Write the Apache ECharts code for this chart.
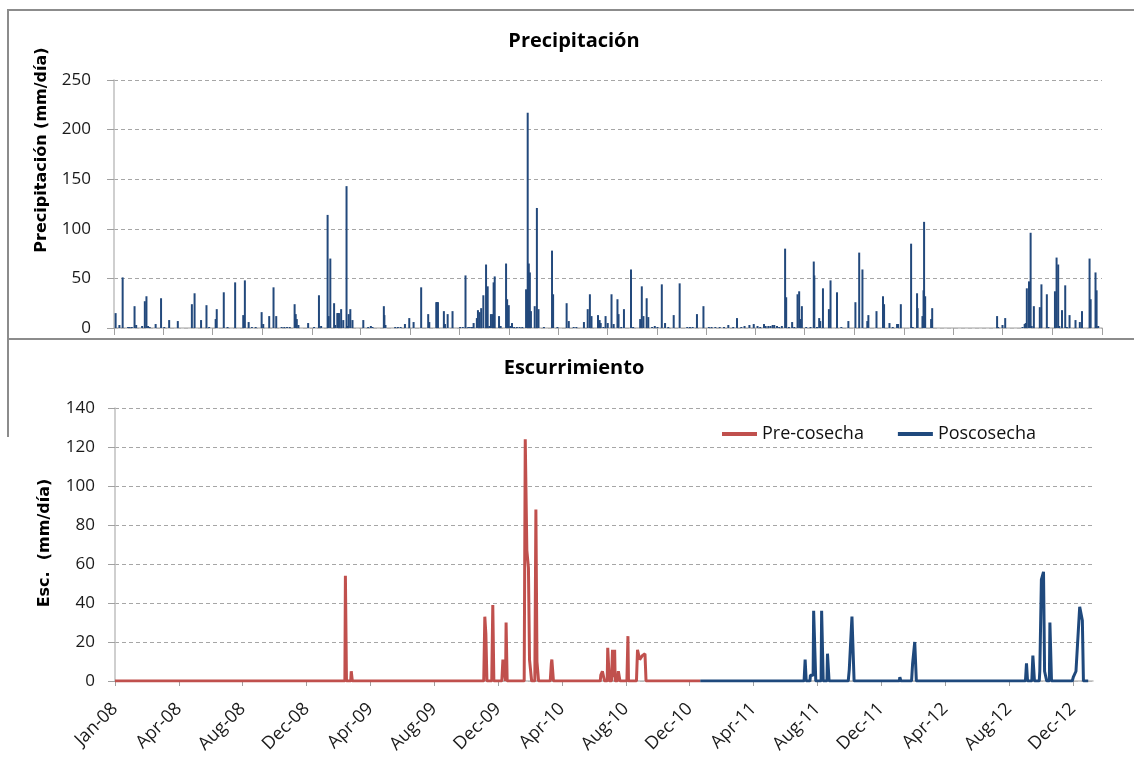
<!DOCTYPE html>
<html><head><meta charset="utf-8">
<script src="https://cdn.jsdelivr.net/npm/echarts@6/dist/echarts.min.js"></script>
<style>html,body{margin:0;padding:0;background:#fff}#c{width:1134px;height:760px}</style>
</head><body><div id="c"></div>
<script>
// Day index 0 = 1 Jan 2008
const START = Date.UTC(2008, 0, 1);
const DAY = 86400000;

// Bottom axis tick labels (every 120 days)
const bottomTickLabels = ['Jan-08','Apr-08','Aug-08','Dec-08','Apr-09','Aug-09','Dec-09','Apr-10','Aug-10','Dec-10','Apr-11','Aug-11','Dec-11','Apr-12','Aug-12','Dec-12'];
const bottomTickStep = 120;

// Precipitation (mm/day): day index and value
const precipDays = [3,10,16,26,29,33,38,41,52,57,60,63,66,77,87,93,102,118,144,149,161,171,176,188,190,203,210,224,239,242,249,255,262,273,276,287,295,300,310,315,320,325,334,336,338,341,359,370,379,383,395,397,400,407,409,413,414,415,416,420,424,430,432,434,437,441,461,470,475,478,499,500,502,520,525,530,538,546,554,568,581,583,596,597,598,599,610,612,617,626,640,645,650,655,658,662,665,671,673,676,679,683,688,691,694,697,700,702,704,712,715,725,727,730,733,736,740,745,750,755,762,765,767,769,771,778,782,785,795,810,812,820,837,841,850,855,869,876,880,883,895,898,900,905,909,913,920,924,931,933,938,943,956,960,973,976,979,985,988,995,1000,1005,1013,1019,1025,1035,1046,1060,1065,1070,1078,1090,1100,1105,1112,1120,1128,1136,1145,1152,1160,1166,1175,1183,1190,1195,1202,1205,1210,1214,1218,1221,1226,1230,1235,1241,1243,1248,1254,1258,1264,1267,1269,1272,1280,1288,1294,1295,1300,1304,1306,1311,1322,1325,1337,1345,1358,1371,1378,1384,1393,1395,1410,1422,1424,1434,1440,1448,1450,1455,1474,1477,1485,1486,1495,1497,1498,1500,1511,1513,1633,1635,1643,1648,1680,1684,1686,1688,1692,1695,1697,1701,1712,1715,1725,1728,1740,1743,1746,1748,1753,1759,1762,1767,1778,1786,1790,1804,1806,1815,1817,1820];
const precipVals = [15,3,51,1,1,1,22,3,2,27,32,2,1,4,30,1,8,7,24,35,8,23,1,9,19,36,1,46,13,48,6,1,1,16,4,12,41,12,1,1,1,1,24,14,9,3,5,1,33,2,114,12,70,25,3,15,15,15,15,19,8,143,2,14,19,8,8,1,2,1,22,13,3,1,1,1,4,10,6,41,14,6,26,26,26,26,17,4,14,17,1,1,53,1,1,1,5,10,18,16,20,33,64,42,2,14,14,46,52,12,2,65,29,23,2,5,1,1,1,1,39,217,65,56,17,22,121,19,1,78,34,1,25,7,1,1,6,19,34,12,13,8,5,1,12,5,34,4,29,14,1,19,59,1,9,42,12,30,11,1,2,1,44,5,1,13,45,1,1,1,14,22,1,1,1,1,1,3,1,10,1,2,3,4,2,1,4,2,2,2,3,3,2,1,2,80,31,1,6,1,34,37,9,22,1,1,67,53,1,10,7,40,19,48,36,1,7,26,76,59,7,13,17,32,24,5,1,4,4,24,85,1,35,20,12,38,107,32,9,20,12,1,3,10,1,4,5,40,47,96,2,22,21,44,34,1,37,71,64,2,18,43,1,13,8,6,17,70,29,56,38,2];

// Runoff, pre-harvest (mm/day)
const preDays = [0,399,400,402,403,432,433,435,443,444,446,693,695,697,699,708,710,712,727,729,734,735,737,769,771,774,777,779,782,783,789,791,793,795,796,818,820,821,823,824,907,908,910,912,913,915,916,919,920,925,926,928,929,933,935,937,939,940,944,946,948,949,962,964,965,980,982,986,991,996,998,1100];
const preVals = [0,0,1,1,0,0,54,0,0,5,0,0,33,24,0,0,39,0,0,11,0,30,0,0,124,67,58,11,10,0,0,88,10,10,0,0,9,11,11,0,0,1,1,0,3,3,5,5,0,0,17,17,0,0,16,2,16,0,0,5,5,0,0,23,0,0,16,11,13,14,0,0];

// Runoff, post-harvest (mm/day)
const posDays = [1100,1295,1297,1299,1306,1307,1312,1313,1316,1317,1327,1328,1330,1331,1338,1339,1341,1342,1378,1380,1383,1385,1387,1389,1474,1475,1477,1497,1499,1501,1503,1505,1506,1694,1695,1697,1711,1713,1714,1715,1723,1725,1726,1728,1737,1738,1741,1745,1746,1747,1750,1751,1756,1757,1759,1760,1799,1801,1806,1809,1813,1815,1818,1820,1829];
const posVals = [0,0,11,0,0,3,3,36,36,0,0,36,36,0,0,14,13,0,0,6,6,33,33,0,0,2,0,0,9,10,20,19,0,0,1,0,0,9,9,0,0,13,12,0,0,5,52,56,55,5,5,0,0,30,30,0,0,2,5,6,38,39,31,0,0];

// Quarter-start tick days for the top chart (from calendar dates)
const topTicks = [];
for (let y = 2008; y <= 2012; y++) for (let m = 0; m < 12; m += 3) topTicks.push(Math.round((Date.UTC(y, m, 1) - START) / DAY));
topTicks.push(Math.round((Date.UTC(2013, 0, 1) - START) / DAY));
const bottomTicks = bottomTickLabels.map((_, i) => i * bottomTickStep);

const FONT = '"Open Sans", "Liberation Sans", sans-serif';
const axisGray = '#bfbfbf';
const gridStyle = {type: [4, 3], color: '#a6a6a6', width: 1};

const chart = echarts.init(document.getElementById('c'), null, {renderer: 'canvas'});
chart.setOption({
  animation: false,
  textStyle: {fontFamily: FONT},
  grid: [
    {left: 114, top: 80, width: 988, height: 248},
    {left: 115, top: 408, width: 978, height: 273}
  ],
  xAxis: [
    {gridIndex: 0, type: 'value', min: 0, max: 1827,
      axisLine: {show: true, lineStyle: {color: axisGray, width: 1.5}},
      axisTick: {show: true, customValues: topTicks, length: 7, lineStyle: {color: '#a0a0a0'}},
      axisLabel: {show: false}, splitLine: {show: false}},
    {gridIndex: 1, type: 'value', min: 0, max: 1838,
      axisLine: {show: true, lineStyle: {color: axisGray, width: 1.5}},
      axisTick: {show: true, customValues: bottomTicks, length: 5, lineStyle: {color: '#a0a0a0'}},
      axisLabel: {customValues: bottomTicks, rotate: 45, margin: 25, fontSize: 18, color: '#1a1a1a', fontFamily: FONT,
        formatter: v => (v % bottomTickStep === 0 ? (bottomTickLabels[v / bottomTickStep] || '') : '')},
      splitLine: {show: false}}
  ],
  yAxis: [
    {gridIndex: 0, type: 'value', min: 0, max: 250, interval: 50,
      axisLine: {show: true, lineStyle: {color: axisGray, width: 1.5}},
      axisTick: {show: true, length: 7, lineStyle: {color: '#a0a0a0'}},
      axisLabel: {margin: 23, fontSize: 17, color: '#1a1a1a', fontFamily: FONT},
      splitLine: {show: true, lineStyle: gridStyle}},
    {gridIndex: 1, type: 'value', min: 0, max: 140, interval: 20,
      axisLine: {show: true, lineStyle: {color: axisGray, width: 1.5}},
      axisTick: {show: true, length: 7, lineStyle: {color: '#a0a0a0'}},
      axisLabel: {margin: 20, fontSize: 17, color: '#1a1a1a', fontFamily: FONT},
      splitLine: {show: true, lineStyle: gridStyle}}
  ],
  legend: {
    left: 722, top: 425, padding: 0, icon: 'rect', itemWidth: 35, itemHeight: 4, itemGap: 34,
    textStyle: {fontSize: 18, color: '#111', fontFamily: FONT},
    data: ['Pre-cosecha', 'Poscosecha']
  },
  series: [
    {name: 'Precipitación', type: 'bar', xAxisIndex: 0, yAxisIndex: 0, barWidth: 2,
      itemStyle: {color: '#23497c'},
      data: precipDays.map((d, i) => [d, precipVals[i]])},
    {name: 'Pre-cosecha', type: 'line', xAxisIndex: 1, yAxisIndex: 1, showSymbol: false, symbol: 'none',
      lineStyle: {width: 3, color: '#c0504d'}, itemStyle: {color: '#c0504d'},
      data: preDays.map((d, i) => [d, preVals[i]])},
    {name: 'Poscosecha', type: 'line', xAxisIndex: 1, yAxisIndex: 1, showSymbol: false, symbol: 'none',
      lineStyle: {width: 3, color: '#1f497d'}, itemStyle: {color: '#1f497d'},
      data: posDays.map((d, i) => [d, posVals[i]])}
  ],
  graphic: [
    {type: 'polyline', silent: true, shape: {points: [[1140, 10], [8, 10], [8, 339], [1140, 339]]},
      style: {stroke: '#8c8c8c', lineWidth: 2, fill: null}},
    {type: 'line', silent: true, shape: {x1: 8, y1: 339, x2: 8, y2: 437},
      style: {stroke: '#8c8c8c', lineWidth: 2}},
    {type: 'text', x: 574, y: 41, silent: true,
      style: {text: 'Precipitación', font: 'bold 20px ' + FONT, fill: '#000', align: 'center', verticalAlign: 'middle'}},
    {type: 'text', x: 574, y: 368, silent: true,
      style: {text: 'Escurrimiento', font: 'bold 20px ' + FONT, fill: '#000', align: 'center', verticalAlign: 'middle'}},
    {type: 'text', x: 42, y: 150, rotation: Math.PI / 2, silent: true,
      style: {text: 'Precipitación (mm/día)', font: 'bold 16px "DejaVu Sans"', fill: '#000', align: 'center', verticalAlign: 'middle'}},
    {type: 'text', x: 45, y: 543, rotation: Math.PI / 2, silent: true,
      style: {text: 'Esc.  (mm/día)', font: 'bold 16px "DejaVu Sans"', fill: '#000', align: 'center', verticalAlign: 'middle'}}
  ]
});
</script>
</body></html>
